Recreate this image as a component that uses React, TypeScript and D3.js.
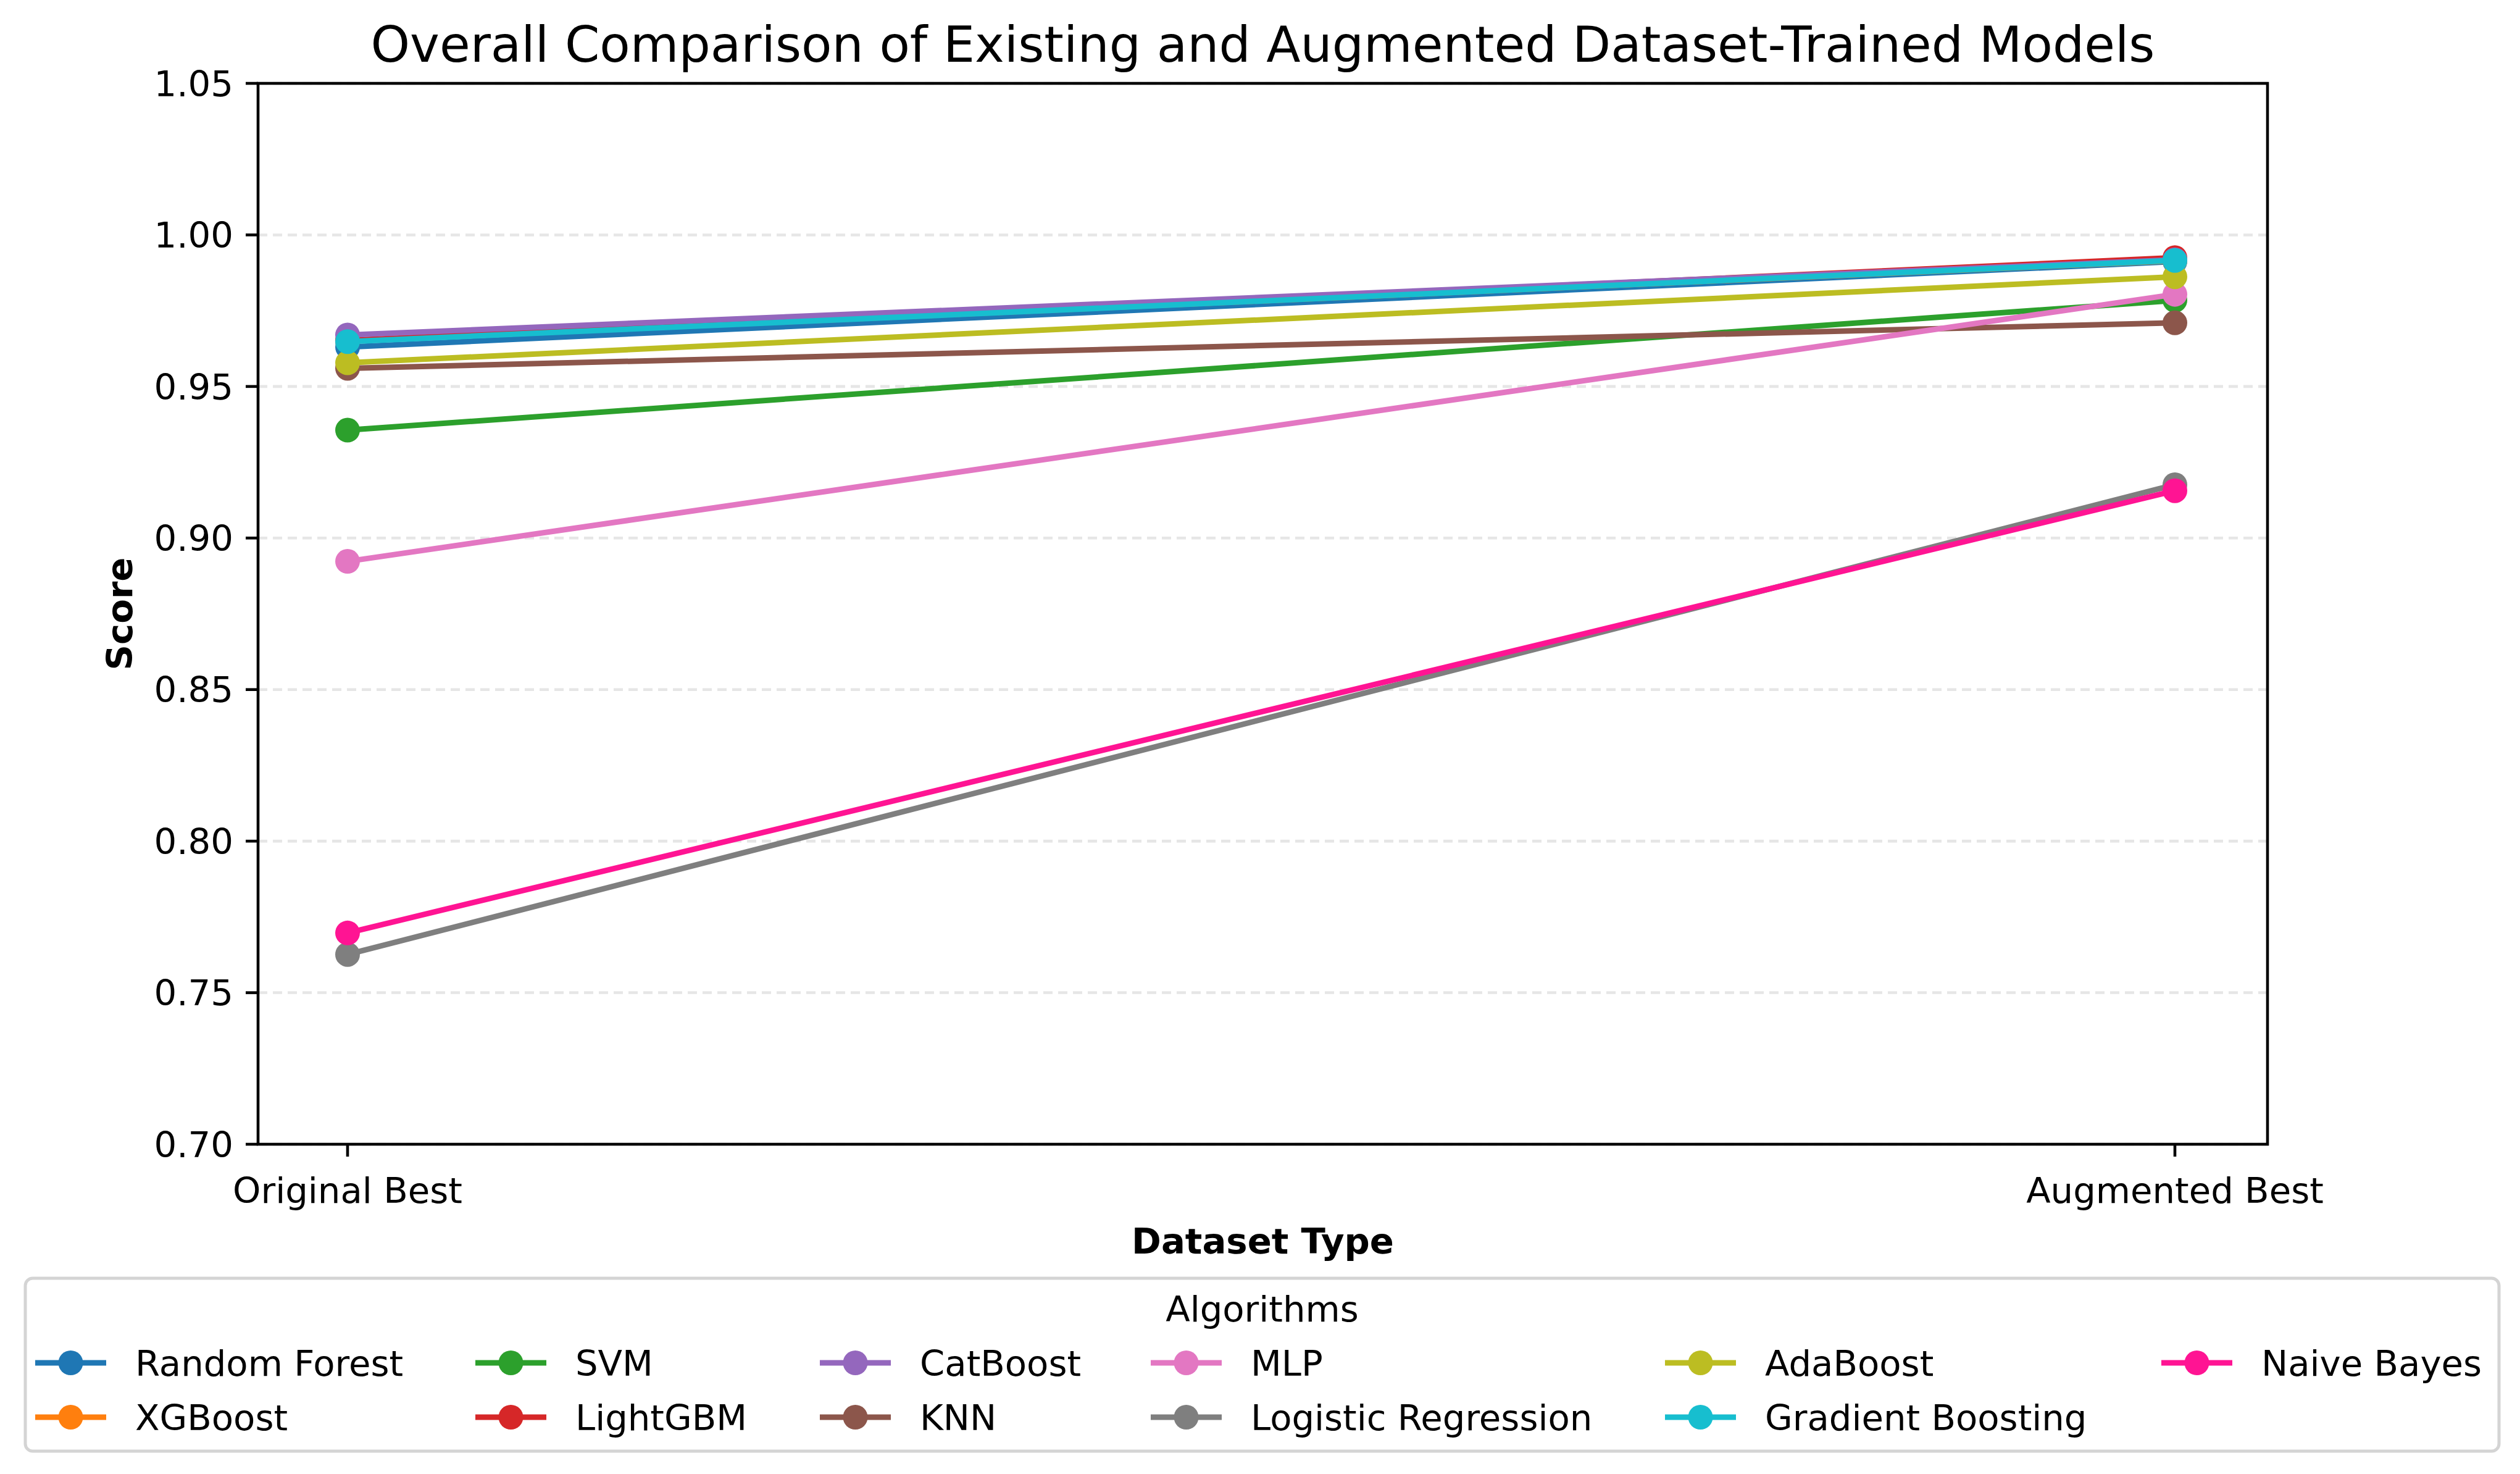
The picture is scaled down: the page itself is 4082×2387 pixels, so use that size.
import { useEffect } from 'react';
import * as d3 from 'd3';

// values
const datasetTypes = ['Original Best', 'Augmented Best'];
const algorithms = [
  'Random Forest', 'XGBoost', 'SVM', 'LightGBM', 'CatBoost', 'KNN',
  'MLP', 'Logistic Regression', 'AdaBoost', 'Gradient Boosting', 'Naive Bayes',
];
const originalScores = [0.963, 0.965, 0.9356, 0.9652, 0.967, 0.956, 0.8923, 0.7626, 0.9578, 0.9648, 0.7697];
const augmentedScores = [0.9912, 0.9915, 0.9784, 0.9925, 0.9918, 0.971, 0.9804, 0.9176, 0.9862, 0.9916, 0.9156];
const colors = [
  '#1f77b4', '#ff7f0e', '#2ca02c', '#d62728', '#9467bd', '#8c564b',
  '#e377c2', '#7f7f7f', '#bcbd22', '#17becf', '#ff1493',
];
const yTicks = [0.7, 0.75, 0.8, 0.85, 0.9, 0.95, 1.0, 1.05];

const W = 4082;
const H = 2387;
const PLOT = { left: 418, right: 3673, top: 135, bottom: 1853 };
const FS = 57.7; // 10pt at this dpi
const FONT = '"DejaVu Sans", sans-serif';
const LEGEND = { x: 41, y: 2070, w: 4007, h: 280 };
const legendCols = [57, 770, 1328, 1864, 2697, 3501];
const legendRows = [2207, 2295];

export default function App() {
  useEffect(() => {
    document.body.style.margin = '0';
  }, []);

  const x = d3.scaleLinear().domain([-0.05, 1.05]).range([415, 3671]);
  const y = d3.scaleLinear().domain([0.7, 1.05]).range([PLOT.bottom, PLOT.top]);
  const line = d3.line<number>().x((_, i) => x(i)).y((d) => y(d));

  const series = algorithms.map((name, i) => ({
    name,
    color: colors[i],
    values: [originalScores[i], augmentedScores[i]],
  }));

  return (
    <svg width={W} height={H} style={{ display: 'block', background: '#fff' }} fontFamily={FONT}>
      {/* grid */}
      {yTicks.map((t) => (
        <line
          key={`g${t}`}
          x1={PLOT.left}
          x2={PLOT.right}
          y1={y(t)}
          y2={y(t)}
          stroke="#e6e6e6"
          strokeWidth={4.6}
          strokeDasharray="15 9"
        />
      ))}

      {/* series */}
      {series.map((s) => (
        <g key={s.name}>
          <path d={line(s.values) ?? ''} fill="none" stroke={s.color} strokeWidth={9} />
          {s.values.map((v, i) => (
            <circle key={i} cx={x(i)} cy={y(v)} r={20} fill={s.color} />
          ))}
        </g>
      ))}

      {/* frame */}
      <rect
        x={PLOT.left}
        y={PLOT.top}
        width={PLOT.right - PLOT.left}
        height={PLOT.bottom - PLOT.top}
        fill="none"
        stroke="#000"
        strokeWidth={4.6}
      />

      {/* y axis */}
      {yTicks.map((t) => (
        <g key={`y${t}`}>
          <line x1={PLOT.left - 20} x2={PLOT.left} y1={y(t)} y2={y(t)} stroke="#000" strokeWidth={4.6} />
          <text x={PLOT.left - 40} y={y(t)} dy="0.36em" textAnchor="end" fontSize={FS}>
            {d3.format('.2f')(t)}
          </text>
        </g>
      ))}
      <text
        transform={`translate(214,${(PLOT.top + PLOT.bottom) / 2}) rotate(-90)`}
        textAnchor="middle"
        fontSize={FS}
        fontWeight="bold"
      >
        Score
      </text>

      {/* x axis */}
      {datasetTypes.map((d, i) => (
        <g key={d}>
          <line x1={x(i)} x2={x(i)} y1={PLOT.bottom} y2={PLOT.bottom + 20} stroke="#000" strokeWidth={4.6} />
          <text x={x(i)} y={1948} textAnchor="middle" fontSize={FS}>
            {d}
          </text>
        </g>
      ))}
      <text x={(PLOT.left + PLOT.right) / 2} y={2030} textAnchor="middle" fontSize={FS} fontWeight="bold">
        Dataset Type
      </text>

      {/* title */}
      <text x={(PLOT.left + PLOT.right) / 2} y={100} textAnchor="middle" fontSize={80.8}>
        Overall Comparison of Existing and Augmented Dataset-Trained Models
      </text>

      {/* legend */}
      <rect
        x={LEGEND.x}
        y={LEGEND.y}
        width={LEGEND.w}
        height={LEGEND.h}
        rx={12}
        fill="#fff"
        stroke="#d4d4d4"
        strokeWidth={5}
      />
      <text x={LEGEND.x + LEGEND.w / 2} y={2140} textAnchor="middle" fontSize={FS}>
        Algorithms
      </text>
      {series.map((s, i) => {
        const lx = legendCols[Math.floor(i / 2)];
        const ly = legendRows[i % 2];
        return (
          <g key={`l${s.name}`}>
            <line x1={lx} x2={lx + 115} y1={ly} y2={ly} stroke={s.color} strokeWidth={9} />
            <circle cx={lx + 57.5} cy={ly} r={20} fill={s.color} />
            <text x={lx + 162} y={ly} dy="0.36em" fontSize={FS}>
              {s.name}
            </text>
          </g>
        );
      })}
    </svg>
  );
}
